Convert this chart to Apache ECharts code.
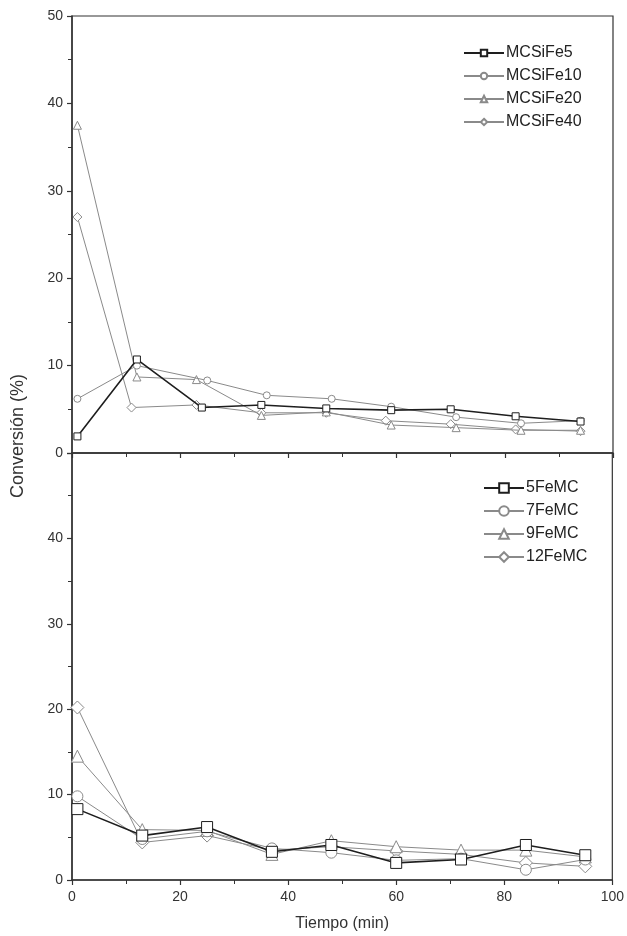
<!DOCTYPE html>
<html>
<head>
<meta charset="utf-8">
<title>Conversión vs Tiempo</title>
<script src="https://cdn.jsdelivr.net/npm/echarts@6/dist/echarts.min.js"></script>
<style>
  html, body { margin: 0; padding: 0; background: #fff; }
  #chart { width: 627px; height: 936px; }
</style>
</head>
<body>
<div id="chart"></div>
<script>
// panel superior (MCSiFe)
const topNames = ["MCSiFe5", "MCSiFe10", "MCSiFe20", "MCSiFe40"];
const tMCSiFe5 = [1, 12, 24, 35, 47, 59, 70, 82, 94];
const vMCSiFe5 = [1.9, 10.7, 5.2, 5.5, 5.1, 4.9, 5.0, 4.2, 3.6];
const tMCSiFe10 = [1, 12, 25, 36, 48, 59, 71, 83, 94];
const vMCSiFe10 = [6.2, 10.0, 8.3, 6.6, 6.2, 5.3, 4.1, 3.4, 3.7];
const tMCSiFe20 = [1, 12, 23, 35, 47, 59, 71, 83, 94];
const vMCSiFe20 = [37.5, 8.7, 8.4, 4.3, 4.7, 3.2, 2.9, 2.6, 2.6];
const tMCSiFe40 = [1, 11, 23, 35, 47, 58, 70, 82, 94];
const vMCSiFe40 = [27.0, 5.2, 5.5, 4.6, 4.6, 3.7, 3.3, 2.7, 2.5];

// panel inferior (FeMC)
const bottomNames = ["5FeMC", "7FeMC", "9FeMC", "12FeMC"];
const tFeMC = [1, 13, 25, 37, 48, 60, 72, 84, 95];
const v5FeMC = [8.3, 5.2, 6.2, 3.3, 4.1, 2.0, 2.4, 4.1, 2.9];
const v7FeMC = [9.8, 4.8, 5.7, 3.7, 3.2, 2.3, 2.5, 1.2, 2.4];
const v9FeMC = [14.5, 5.9, 5.8, 3.0, 4.6, 3.9, 3.5, 3.5, 2.7];
const v12FeMC = [20.2, 4.4, 5.2, 3.5, 3.9, 3.4, 3.0, 2.0, 1.6];

const yTicks = [0, 10, 20, 30, 40, 50];
const xTicks = [0, 20, 40, 60, 80, 100];

const FONT = "Liberation Sans, Arial, sans-serif";
const AXIS = "#333";
const BLACK = "#1e1e1e";
const GRAY = "#8a8a8a";
const symbols = ["rect", "circle", "triangle", "diamond"];
const colors = [BLACK, GRAY, GRAY, GRAY];
// ajuste de tamaño por forma
const sizeAdd = [0, 0, 1, 2];

function pairs(t, v) {
  return t.map((x, i) => [x, v[i]]);
}

function makeSeries(name, data, idx, gridIdx, size) {
  return {
    name: name,
    type: "line",
    xAxisIndex: gridIdx,
    yAxisIndex: gridIdx,
    data: data,
    symbol: symbols[idx],
    symbolSize: size + sizeAdd[idx],
    z: 10 - idx,
    lineStyle: { color: colors[idx], width: idx === 0 ? 1.6 : 1 },
    itemStyle: { color: "#fff", borderColor: colors[idx], borderWidth: 1 },
    emphasis: { disabled: true },
    animation: false
  };
}

function xAxis(gridIdx, showLabel) {
  return {
    type: "value",
    gridIndex: gridIdx,
    min: 0,
    max: 100,
    interval: 20,
    axisLine: { show: true, lineStyle: { color: AXIS, width: 1.5 } },
    axisTick: { show: true, length: 5, lineStyle: { color: AXIS, width: 1.2 } },
    minorTick: { show: true, splitNumber: 2, length: 4, lineStyle: { color: AXIS } },
    splitLine: { show: false },
    axisLabel: {
      show: showLabel,
      color: "#333",
      fontFamily: FONT,
      fontSize: 14,
      margin: 10,
      formatter: v => (xTicks.indexOf(v) >= 0 ? String(v) : "")
    },
    name: showLabel ? "Tiempo (min)" : "",
    nameLocation: "middle",
    nameGap: 36,
    nameTextStyle: { color: "#333", fontFamily: FONT, fontSize: 16 }
  };
}

function yAxis(gridIdx, hideTop) {
  return {
    type: "value",
    gridIndex: gridIdx,
    min: 0,
    max: 50,
    interval: 10,
    axisLine: { show: true, lineStyle: { color: AXIS, width: 1.5 } },
    axisTick: { show: true, length: 5, lineStyle: { color: AXIS, width: 1.2 } },
    minorTick: { show: true, splitNumber: 2, length: 4, lineStyle: { color: AXIS } },
    splitLine: { show: false },
    axisLabel: {
      color: "#333",
      fontFamily: FONT,
      fontSize: 14,
      margin: 9,
      formatter: v => (hideTop && v === 50) || yTicks.indexOf(v) < 0 ? "" : String(v)
    }
  };
}

function legend(names, left, top, h) {
  return {
    data: names,
    orient: "vertical",
    left: left,
    top: top,
    itemWidth: 40,
    itemHeight: h,
    itemGap: 23 - Math.max(h, 16),
    textStyle: { color: "#222", fontFamily: FONT, fontSize: 16, lineHeight: 16, padding: [0, 0, 0, -3] },
    selectedMode: false
  };
}

const chart = echarts.init(document.getElementById("chart"));

chart.setOption({
  backgroundColor: "#fff",
  grid: [
    { left: 72, right: 14, top: 16, height: 437, show: true, borderColor: AXIS, borderWidth: 1.2 },
    { left: 72, right: 14, top: 453, height: 427, show: true, borderColor: AXIS, borderWidth: 1.2 }
  ],
  xAxis: [xAxis(0, false), xAxis(1, true)],
  yAxis: [yAxis(0, false), yAxis(1, true)],
  legend: [
    legend(topNames, 458, 40, 8),
    legend(bottomNames, 478, 475, 12)
  ],
  graphic: [
    {
      type: "text",
      left: 9,
      top: 374,
      rotation: Math.PI / 2,
      style: {
        text: "Conversión (%)",
        fill: "#333",
        font: "18px " + FONT
      }
    }
  ],
  series: [
    makeSeries(topNames[0], pairs(tMCSiFe5, vMCSiFe5), 0, 0, 7),
    makeSeries(topNames[1], pairs(tMCSiFe10, vMCSiFe10), 1, 0, 7),
    makeSeries(topNames[2], pairs(tMCSiFe20, vMCSiFe20), 2, 0, 7),
    makeSeries(topNames[3], pairs(tMCSiFe40, vMCSiFe40), 3, 0, 7),
    makeSeries(bottomNames[0], pairs(tFeMC, v5FeMC), 0, 1, 11),
    makeSeries(bottomNames[1], pairs(tFeMC, v7FeMC), 1, 1, 11),
    makeSeries(bottomNames[2], pairs(tFeMC, v9FeMC), 2, 1, 11),
    makeSeries(bottomNames[3], pairs(tFeMC, v12FeMC), 3, 1, 11)
  ]
});
</script>
</body>
</html>
